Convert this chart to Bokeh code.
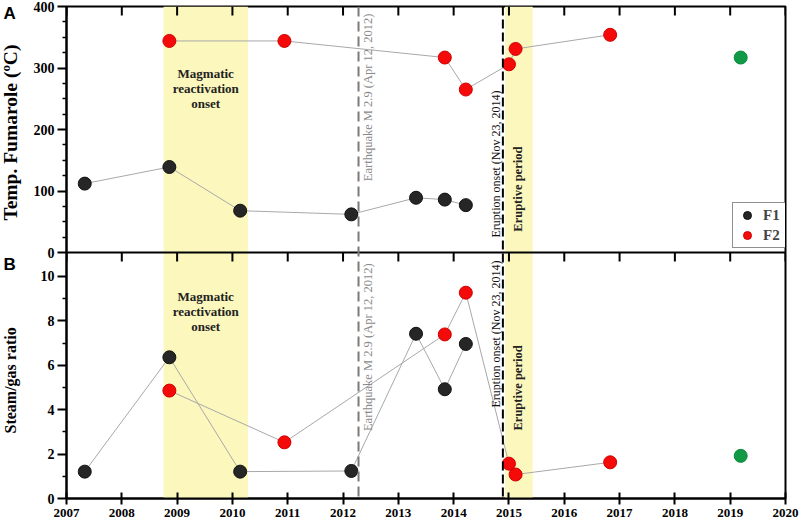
from bokeh.plotting import figure
from bokeh.models import (Range1d, LinearAxis, FixedTicker, CustomJSTickFormatter, Span,
                          BoxAnnotation, Label, Legend, LegendItem)
from bokeh.layouts import row
from bokeh.embed import file_html
from bokeh.resources import INLINE

# ---------------- data ----------------
years_ticks = list(range(2007, 2021))

# Panel A: temperature of fumaroles (C)
a_f1_x = [2007.33, 2008.86, 2010.14, 2012.15, 2013.32, 2013.84, 2014.22]
a_f1_y = [112, 139, 68, 62, 89, 86, 77]
a_f2_x = [2008.86, 2010.94, 2013.84, 2014.22, 2015.00, 2015.12, 2016.83]
a_f2_y = [344, 344, 317, 265, 306, 331, 354]
a_g_x = [2019.19]
a_g_y = [317]

# Panel B: steam/gas ratio
b_f1_x = [2007.33, 2008.86, 2010.14, 2012.15, 2013.32, 2013.84, 2014.22]
b_f1_y = [1.21, 6.36, 1.21, 1.24, 7.42, 4.92, 6.96]
b_f2_x = [2008.86, 2010.94, 2013.84, 2014.22, 2015.00, 2015.12, 2016.83]
b_f2_y = [4.86, 2.53, 7.39, 9.27, 1.57, 1.08, 1.63]
b_g_x = [2019.19]
b_g_y = [1.92]

magmatic_band = [2008.755, 2010.28]
eruptive_band = [2014.93, 2015.43]
earthquake_x = 2012.28
eruption_x = 2014.89

a_ticks = [0, 100, 200, 300, 400]
a_minor = [25, 50, 75, 125, 150, 175, 225, 250, 275, 325, 350, 375]
b_ticks = [0, 2, 4, 6, 8, 10]
b_minor = [1, 3, 5, 7, 9]

# ---------------- stacked-panel geometry ----------------
S = 11.08   # top of panel B (B units) == zero of panel A
T = 22.16   # top of the frame (B units)
A_MAX = 400.0
a_start = -A_MAX * S / (T - S)


def a2b(v):
    return S + v * (T - S) / A_MAX


SERIF = "Liberation Serif"
SANS = "Liberation Sans"
H = 524
TOP, BOTTOM = 6, 26
LEFT_W = 30

yr = Range1d(0, T)
yrA = Range1d(a_start, A_MAX)

p = figure(width=770, height=H, output_backend="svg", toolbar_location=None,
           x_range=Range1d(2007, 2020), y_range=yr,
           min_border_left=63 - LEFT_W, min_border_right=15, min_border_top=TOP,
           min_border_bottom=BOTTOM, x_axis_location=None, y_axis_location=None)
p.extra_y_ranges = {"A": yrA}
p.xgrid.visible = False
p.ygrid.visible = False
p.outline_line_color = "black"
p.outline_line_width = 2
p.background_fill_color = "white"
p.border_fill_color = "white"

# left axis (shared, both panels)
yt = FixedTicker(ticks=b_ticks + [a2b(v) for v in a_ticks],
                 minor_ticks=b_minor + [a2b(v) for v in a_minor])
yfmt = CustomJSTickFormatter(args=dict(S=S, T=T, M=A_MAX), code="""
    if (tick < S - 1e-6) { return tick.toFixed(0); }
    return Math.round((tick - S) * M / (T - S)).toFixed(0);
""")
yax = LinearAxis(ticker=yt, formatter=yfmt)
yax.axis_line_width = 2
yax.major_tick_line_width = 2
yax.minor_tick_line_width = 1.5
yax.major_tick_out = 9
yax.major_tick_in = 0
yax.minor_tick_out = 4
yax.minor_tick_in = 0
yax.major_label_standoff = 3
yax.major_label_text_font = SERIF
yax.major_label_text_font_style = "bold"
yax.major_label_text_font_size = "14px"
yax.major_label_text_color = "black"
p.add_layout(yax, "left")

xax = LinearAxis(ticker=FixedTicker(ticks=years_ticks, minor_ticks=[]))
xax.axis_line_width = 2
xax.major_tick_line_width = 2
xax.major_tick_out = 6
xax.major_tick_in = 6
xax.minor_tick_out = 0
xax.minor_tick_in = 0
xax.major_label_standoff = 4
xax.major_label_text_font = SERIF
xax.major_label_text_font_style = "bold"
xax.major_label_text_font_size = "13px"
xax.major_label_text_color = "black"
p.add_layout(xax, "below")

# bands
for band in (magmatic_band, eruptive_band):
    p.add_layout(BoxAnnotation(left=band[0], right=band[1], fill_color="#fcf8bd",
                               fill_alpha=1.0, line_alpha=0, level="underlay"))

# panel separator and inward ticks
p.add_layout(Span(location=S, dimension="width", line_color="black", line_width=2))
tick_len = 9 / 22.2
p.segment(x0=years_ticks, y0=[T] * len(years_ticks), x1=years_ticks,
          y1=[T - tick_len] * len(years_ticks), line_color="black", line_width=2)
p.segment(x0=years_ticks, y0=[S] * len(years_ticks), x1=years_ticks,
          y1=[S - tick_len] * len(years_ticks), line_color="black", line_width=2)

# event lines
p.add_layout(Span(location=earthquake_x, dimension="height", line_color="#7a7a7a",
                  line_width=2, line_dash="10 5"))
p.add_layout(Span(location=eruption_x, dimension="height", line_color="black",
                  line_width=2, line_dash="9 4"))

# connecting lines
LINE = "#a8a8a8"
p.line(a_f1_x, a_f1_y, y_range_name="A", line_color=LINE, line_width=1)
p.line(a_f2_x, a_f2_y, y_range_name="A", line_color=LINE, line_width=1)
p.line(b_f1_x, b_f1_y, line_color=LINE, line_width=1)
p.line(b_f2_x, b_f2_y, line_color=LINE, line_width=1)

BLACK = "#262626"
RED = "#f50a0a"
GREEN = "#109a46"
SIZE = 13
ra1 = p.scatter(a_f1_x, a_f1_y, y_range_name="A", size=SIZE, fill_color=BLACK, line_color="#111111")
ra2 = p.scatter(a_f2_x, a_f2_y, y_range_name="A", size=SIZE, fill_color=RED, line_color="#d00000")
p.scatter(a_g_x, a_g_y, y_range_name="A", size=SIZE, fill_color=GREEN, line_color="#0a8a3a")
p.scatter(b_f1_x, b_f1_y, size=SIZE, fill_color=BLACK, line_color="#111111")
p.scatter(b_f2_x, b_f2_y, size=SIZE, fill_color=RED, line_color="#d00000")
p.scatter(b_g_x, b_g_y, size=SIZE, fill_color=GREEN, line_color="#0a8a3a")


def lab(fig, x, y, text, rng=None, **kw):
    opts = dict(x=x, y=y, text=text, text_font=SERIF, text_font_size="13px",
                text_color="black")
    if rng:
        opts["y_range_name"] = rng
    opts.update(kw)
    fig.add_layout(Label(**opts))


mag_x = (magmatic_band[0] + magmatic_band[1]) / 2
for yv, rng in ((266.7, "A"), (8.42, None)):
    lab(p, mag_x, yv, "Magmatic\nreactivation\nonset", rng, text_font_style="bold",
        text_align="center", text_baseline="middle", text_color="#222222",
        text_line_height=1.0)

# earthquake text (rotated)
for yv, rng in ((388.6, "A"), (10.59, None)):
    lab(p, earthquake_x + 0.17, yv, "Earthquake M 2.9 (Apr 12, 2012)", rng, angle=1.5708,
        text_align="right", text_baseline="middle", text_color="#8a8a8a",
        text_font_size="12.5px")

# eruption onset text
lab(p, eruption_x - 0.13, 24.4, "Eruption onset (Nov 23, 2014)", "A", angle=1.5708,
    text_align="left", text_baseline="middle", text_font_size="12px", text_color="#111111")
lab(p, eruption_x - 0.13, 10.72, "Eruption onset (Nov 23, 2014)", None, angle=1.5708,
    text_align="right", text_baseline="middle", text_font_size="12px", text_color="#111111")

# eruptive period
er_x = (eruptive_band[0] + eruptive_band[1]) / 2 - 0.01
for yv, rng in ((103, "A"), (4.98, None)):
    lab(p, er_x, yv, "Eruptive period", rng, angle=1.5708, text_font_style="bold",
        text_align="center", text_baseline="middle", text_color="#222222",
        text_font_size="12.5px")

legend = Legend(items=[LegendItem(label="F1", renderers=[ra1]),
                       LegendItem(label="F2", renderers=[ra2])],
                location=(666, 250))
legend.border_line_color = "#222222"
legend.border_line_width = 1
legend.background_fill_alpha = 1
legend.label_text_font = SERIF
legend.label_text_font_style = "bold"
legend.label_text_font_size = "15px"
legend.glyph_width = 24
legend.glyph_height = 20
legend.label_height = 20
legend.spacing = 0
legend.padding = 2
legend.margin = 0
legend.label_standoff = 4
p.add_layout(legend)

# ---------------- left strip with axis titles and panel letters ----------------
q = figure(width=LEFT_W, height=H, output_backend="svg", toolbar_location=None,
           x_range=Range1d(0, LEFT_W), y_range=yr,
           min_border_left=0, min_border_right=0, min_border_top=TOP,
           min_border_bottom=BOTTOM, x_axis_location=None, y_axis_location=None)
q.extra_y_ranges = {"A": yrA}
q.xgrid.visible = False
q.ygrid.visible = False
q.outline_line_color = None
q.background_fill_color = "white"
q.border_fill_color = "white"

lab(q, 10, 195, "Temp. Fumarole (ºC)", "A", angle=1.5708, text_font_style="bold",
    text_align="center", text_baseline="middle", text_font_size="19.5px")
lab(q, 10, 5.32, "Steam/gas ratio", None, angle=1.5708, text_font_style="bold",
    text_align="center", text_baseline="middle", text_font_size="16px")
lab(q, 3, 389, "A", "A", text_font=SANS, text_font_style="bold", text_font_size="17px",
    text_align="left", text_baseline="middle")
lab(q, 3, 10.54, "B", None, text_font=SANS, text_font_style="bold", text_font_size="17px",
    text_align="left", text_baseline="middle")

layout = row(q, p, spacing=0)
open("out.html", "w").write(file_html(layout, INLINE))
